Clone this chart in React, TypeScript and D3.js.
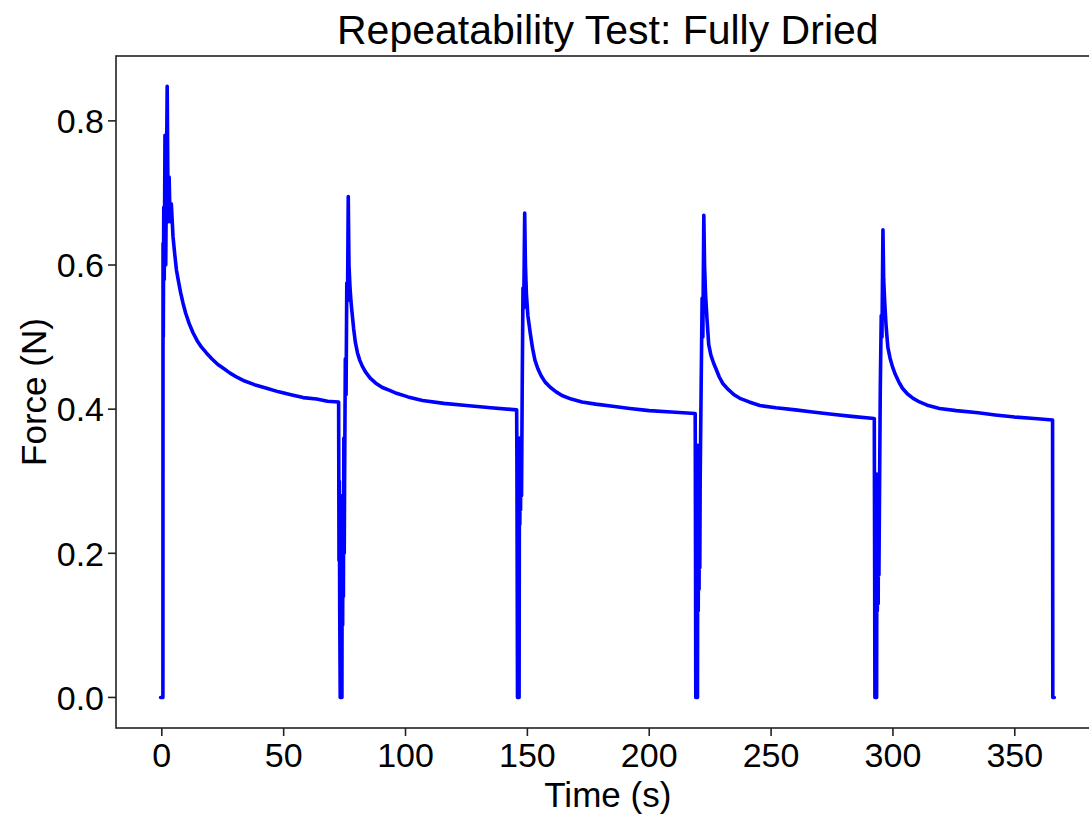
import React from "react";
import * as d3 from "d3";

// Time (s) / Force (N) samples, one array per loading cycle
const cycle1: [number, number][] = [
  [-0.5, 0], [0.45, 0], [0.5, 0.63], [0.6, 0.5], [0.8, 0.68], [1.0, 0.58], [1.3, 0.78], [1.6, 0.6],
  [2.2, 0.848], [2.6, 0.66], [3.0, 0.722], [3.4, 0.66], [3.9, 0.685], [4.6, 0.639], [5.3, 0.615],
  [6.0, 0.593], [6.8, 0.578], [7.7, 0.562], [8.7, 0.547], [9.8, 0.533], [11.2, 0.519], [12.8, 0.506],
  [14.5, 0.495], [16.3, 0.486], [18.3, 0.478], [20.5, 0.47], [23.0, 0.462], [25.1, 0.457], [28.0, 0.45],
  [31.0, 0.444], [34.0, 0.439], [38.0, 0.434], [43.0, 0.429], [48.0, 0.424], [53.0, 0.42], [58.0, 0.416],
  [63.5, 0.414], [68.0, 0.411], [72.5, 0.41],
];
const cycle2: [number, number][] = [
  [72.55, 0.41], [72.6, 0.34], [72.7, 0.19], [72.85, 0.3], [73.0, 0.12], [73.2, 0.0], [73.9, 0.0],
  [74.05, 0.28], [74.2, 0.1], [74.35, 0.26], [74.5, 0.14], [74.7, 0.36], [74.85, 0.2], [75.0, 0.3],
  [75.3, 0.47], [75.6, 0.42], [75.9, 0.575], [76.2, 0.55], [76.5, 0.695], [76.8, 0.6], [77.2, 0.57],
  [77.6, 0.55], [78.0, 0.536], [78.7, 0.512], [79.4, 0.493], [80.3, 0.478], [81.2, 0.468], [82.2, 0.46],
  [83.5, 0.452], [85.5, 0.443], [87.8, 0.436], [90.5, 0.43], [93.5, 0.426], [96.3, 0.422], [101.0, 0.417],
  [107.0, 0.412], [115.7, 0.408], [125.0, 0.405], [135.0, 0.402], [145.5, 0.399],
];
const cycle3: [number, number][] = [
  [145.6, 0.399], [145.7, 0.33], [145.8, 0.2], [145.95, 0.0], [146.6, 0.0], [146.75, 0.36], [146.9, 0.24],
  [147.05, 0.34], [147.2, 0.26], [147.35, 0.35], [147.6, 0.28], [147.9, 0.44], [148.2, 0.568],
  [148.5, 0.54], [148.9, 0.672], [149.2, 0.6], [149.6, 0.56], [150.2, 0.53], [151.2, 0.505],
  [152.1, 0.485], [153.1, 0.468], [154.3, 0.456], [155.7, 0.446], [157.3, 0.4375], [159.5, 0.43],
  [161.8, 0.424], [164.2, 0.419], [168.0, 0.414], [172.4, 0.41], [178.0, 0.407], [185.0, 0.404],
  [192.0, 0.401], [200.0, 0.398], [209.0, 0.396], [218.8, 0.394],
];
const cycle4: [number, number][] = [
  [218.85, 0.394], [218.9, 0.35], [219.0, 0.2], [219.1, 0.0], [219.8, 0.0], [219.95, 0.35], [220.1, 0.12],
  [220.3, 0.28], [220.45, 0.15], [220.6, 0.33], [220.75, 0.18], [220.9, 0.3], [221.3, 0.43],
  [221.7, 0.554], [222.0, 0.5], [222.4, 0.669], [222.7, 0.6], [223.1, 0.56], [223.7, 0.525],
  [224.4, 0.49], [225.3, 0.475], [226.4, 0.464], [227.5, 0.455], [228.7, 0.445], [230.1, 0.436],
  [232.5, 0.427], [234.8, 0.42], [237.2, 0.415], [241.0, 0.41], [245.4, 0.405], [252.0, 0.402],
  [260.0, 0.399], [267.0, 0.396], [275.0, 0.393], [283.0, 0.39], [292.3, 0.387],
];
const cycle5: [number, number][] = [
  [292.35, 0.387], [292.4, 0.31], [292.5, 0.18], [292.6, 0.0], [293.3, 0.0], [293.45, 0.31],
  [293.6, 0.12], [293.8, 0.26], [293.95, 0.13], [294.1, 0.3], [294.25, 0.17], [294.4, 0.24],
  [294.8, 0.425], [295.2, 0.53], [295.5, 0.5], [295.9, 0.649], [296.2, 0.58], [296.6, 0.55],
  [297.2, 0.515], [297.9, 0.486], [298.8, 0.471], [299.8, 0.459], [301.0, 0.448], [302.4, 0.438],
  [303.9, 0.429], [306.0, 0.421], [308.3, 0.415], [310.9, 0.41], [314.5, 0.405], [319.1, 0.401],
  [326.0, 0.398], [335.0, 0.395], [342.0, 0.392], [350.0, 0.389], [358.0, 0.387], [365.5, 0.385],
  [365.6, 0.0], [366.2, 0.0],
];
const cycles = [cycle1, cycle2, cycle3, cycle4, cycle5];

const xTicks = [0, 50, 100, 150, 200, 250, 300, 350];
const yTicks = [0.0, 0.2, 0.4, 0.6, 0.8];
const titleText = "Repeatability Test: Fully Dried";
const xLabel = "Time (s)";
const yLabel = "Force (N)";

const W = 1089;
const H = 815;
const FONT = "'Liberation Sans', Arial, sans-serif";

export default function App() {
  const x = d3.scaleLinear().domain([-18.8, 384.8]).range([116, 1099.6]);
  const y = d3.scaleLinear().domain([-0.0424, 0.89]).range([728, 56]);
  const line = d3
    .line<[number, number]>()
    .x((d) => x(d[0]))
    .y((d) => y(d[1]))
    .curve(d3.curveLinear);
  const all = cycles.reduce((acc, c) => acc.concat(c), [] as [number, number][]);
  const [x0, x1] = x.range();
  const [y0, y1] = y.range();
  return (
    <svg
      width={W}
      height={H}
      style={{ position: "absolute", left: 0, top: 0, background: "#fff" }}
      fontFamily={FONT}
    >
      <rect x={0} y={0} width={W} height={H} fill="#fff" />
      <path d={line(all) || ""} fill="none" stroke="#0000ff" strokeWidth={3.6} strokeLinejoin="round" strokeLinecap="round" />
      <rect x={x0} y={y1} width={x1 - x0} height={y0 - y1} fill="none" stroke="#222" strokeWidth={1.6} />
      {xTicks.map((t) => (
        <g key={"x" + t}>
          <line x1={x(t)} x2={x(t)} y1={y0} y2={y0 + 8} stroke="#222" strokeWidth={1.6} />
          <text x={x(t)} y={767} textAnchor="middle" fontSize={34} fill="#000">
            {t}
          </text>
        </g>
      ))}
      {yTicks.map((t) => (
        <g key={"y" + t}>
          <line x1={x0 - 8} x2={x0} y1={y(t)} y2={y(t)} stroke="#222" strokeWidth={1.6} />
          <text x={104} y={y(t)} dy="0.36em" textAnchor="end" fontSize={34} fill="#000">
            {t.toFixed(1)}
          </text>
        </g>
      ))}
      <text x={(x0 + x1) / 2} y={44} textAnchor="middle" fontSize={41} fill="#000">
        {titleText}
      </text>
      <text x={(x0 + x1) / 2} y={807} textAnchor="middle" fontSize={35} fill="#000">
        {xLabel}
      </text>
      <text
        transform={`translate(46, ${(y0 + y1) / 2}) rotate(-90)`}
        textAnchor="middle"
        fontSize={35}
        fill="#000"
      >
        {yLabel}
      </text>
    </svg>
  );
}
